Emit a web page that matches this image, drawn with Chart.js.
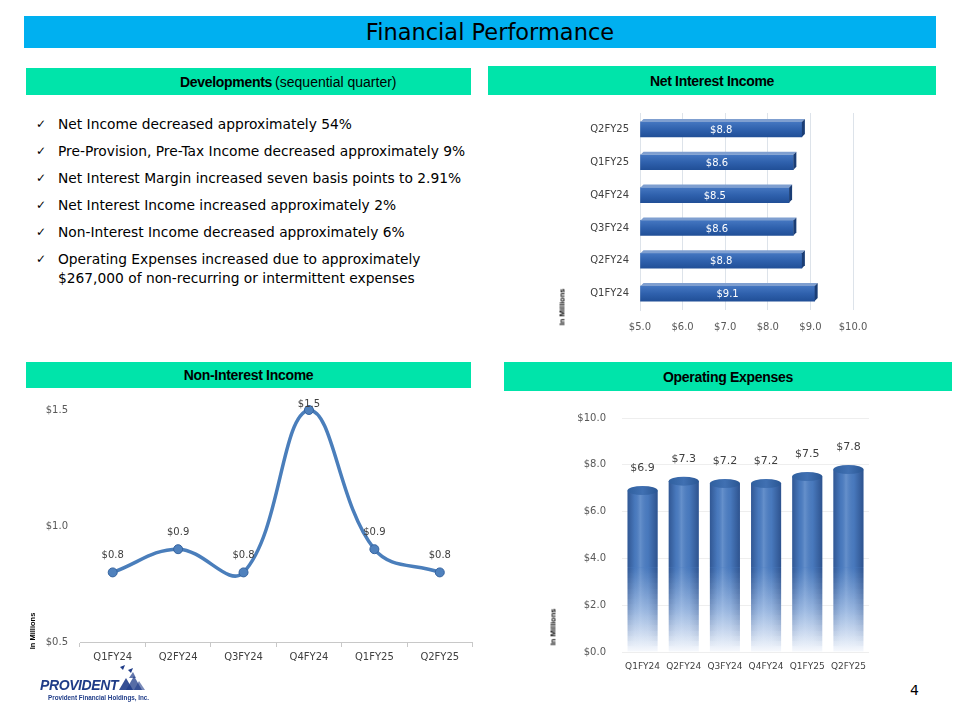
<!DOCTYPE html>
<html>
<head>
<meta charset="utf-8">
<title>Financial Performance</title>
<script src="https://cdn.jsdelivr.net/npm/chart.js@4.4.1/dist/chart.umd.min.js"></script>
<style>
  body { margin: 0; width: 960px; height: 720px; position: relative; background: #fff; overflow: hidden;
         font-family: "DejaVu Sans", sans-serif; color: #000; }
  .band { position: absolute; display: flex; align-items: center; justify-content: center; box-sizing: border-box; }
  .title { left: 24px; top: 16px; width: 912px; height: 32px; background: #00B0F0; font-size: 22.5px; padding-left: 20px; }
  .head { background: #00E4AA; font-family: "Liberation Sans", sans-serif; font-weight: bold; font-size: 14px; letter-spacing: -0.3px; }
  .head span { font-weight: normal; letter-spacing: 0; margin-left: 3px; }
  ul.dev { position: absolute; left: 36px; top: 115px; margin: 0; padding: 0; list-style: none; font-size: 13.8px; }
  ul.dev li { position: relative; padding-left: 22px; line-height: 19px; margin-bottom: 8px; white-space: nowrap; }
  ul.dev li::before { content: "\2713"; position: absolute; left: 0; top: 0; font-size: 12px; }
  .chart { position: absolute; }
  .units { position: absolute; font-family: "Liberation Sans", sans-serif; font-weight: bold; font-size: 7.5px;
           white-space: nowrap; transform: translate(-50%, -50%) rotate(-90deg); }
  .page { position: absolute; left: 910px; top: 682px; font-size: 14px; }
  .logo { position: absolute; left: 40px; top: 677px; color: #1F3C88; }
  .logo .name { font-family: "Liberation Sans", sans-serif; font-weight: bold; font-style: italic; font-size: 14px; letter-spacing: -0.4px; }
  .logo .sub { font-family: "Liberation Sans", sans-serif; font-weight: bold; font-size: 6.3px; margin-left: 8px; margin-top: 1px; }
</style>
</head>
<body>
<div class="band title">Financial Performance</div>

<div class="band head" style="left:26px;top:68px;width:445px;height:27px;justify-content:flex-start;padding-left:154px;">Developments<span>(sequential quarter)</span></div>
<ul class="dev">
  <li>Net Income decreased approximately 54%</li>
  <li>Pre-Provision, Pre-Tax Income decreased approximately 9%</li>
  <li>Net Interest Margin increased seven basis points to 2.91%</li>
  <li>Net Interest Income increased approximately 2%</li>
  <li>Non-Interest Income decreased approximately 6%</li>
  <li>Operating Expenses increased due to approximately<br>$267,000 of non-recurring or intermittent expenses</li>
</ul>

<div class="band head" style="left:488px;top:66px;width:448px;height:29px;">Net Interest Income</div>
<div class="chart" style="left:540px;top:96px;"><canvas id="nii" width="340" height="244"></canvas></div>
<div class="units" style="left:562px;top:307px;">In Millions</div>

<div class="band head" style="left:26px;top:362px;width:445px;height:26px;">Non-Interest Income</div>
<div class="chart" style="left:26px;top:392px;"><canvas id="nonii" width="452" height="280"></canvas></div>
<div class="units" style="left:32px;top:631px;">In Millions</div>

<div class="band head" style="left:504px;top:362px;width:448px;height:29px;">Operating Expenses</div>
<div class="chart" style="left:540px;top:396px;"><canvas id="opex" width="340" height="286"></canvas></div>
<div class="units" style="left:553px;top:627px;">In Millions</div>

<div class="logo">
  <div class="name">PROVIDENT</div>
  <div class="sub">Provident Financial Holdings, Inc.</div>
</div>
<svg style="position:absolute;left:116px;top:664px;" width="32" height="30" viewBox="0 0 32 30">
  <polygon points="4,3 9,1 7,6" fill="#1F3C88"/>
  <polygon points="12,6 17,4 15,9" fill="#1F3C88"/>
  <polygon points="3,26 10,14 17,26" fill="#1F3C88" opacity="0.9"/>
  <polygon points="10,26 18,12 26,26" fill="#1F3C88" opacity="0.75"/>
  <polygon points="18,26 23,17 29,26" fill="#1F3C88" opacity="0.6"/>
  <polygon points="13,14 17,8 20,14" fill="#1F3C88" opacity="0.7"/>
</svg>
<div class="page">4</div>

<script>
// values in millions of dollars
const quarters = ['Q1FY24', 'Q2FY24', 'Q3FY24', 'Q4FY24', 'Q1FY25', 'Q2FY25'];
const netInterestIncome = [9.1, 8.8, 8.6, 8.5, 8.6, 8.8];
const nonInterestIncome = [0.8, 0.9, 0.8, 1.5, 0.9, 0.8];
const operatingExpenses = [6.9, 7.3, 7.2, 7.2, 7.5, 7.8];

// axis ranges [min, max, step]; tick labels come out as $5.0 ... $10.0 etc.
const niiRange = [5, 10, 1];
const nonIiRange = [0.5, 1.5, 0.5];
const opexRange = [0, 10, 2];

Chart.defaults.font.family = '"DejaVu Sans", sans-serif';
Chart.defaults.font.size = 10;
Chart.defaults.color = '#595959';
Chart.defaults.animation = false;
Chart.defaults.plugins.legend.display = false;
Chart.defaults.plugins.tooltip.enabled = false;

const money = v => '$' + Number(v).toFixed(1);

// ---- Net Interest Income: flat 3D-ish horizontal bars ----
const niiDepth = {
  id: 'niiDepth',
  afterDatasetsDraw(chart) {
    const ctx = chart.ctx;
    const values = chart.data.datasets[0].data;
    const d = 3;
    ctx.save();
    chart.getDatasetMeta(0).data.forEach((bar, i) => {
      const { x, y, base, height } = bar.getProps(['x', 'y', 'base', 'height'], true);
      const top = y - height / 2, bottom = y + height / 2;
      // top face
      ctx.fillStyle = '#7F9FD0';
      ctx.beginPath();
      ctx.moveTo(base, top); ctx.lineTo(base + d, top - d); ctx.lineTo(x + d, top - d); ctx.lineTo(x, top);
      ctx.closePath(); ctx.fill();
      // end face
      ctx.fillStyle = '#1A3D75';
      ctx.beginPath();
      ctx.moveTo(x, top); ctx.lineTo(x + d, top - d); ctx.lineTo(x + d, bottom - d); ctx.lineTo(x, bottom);
      ctx.closePath(); ctx.fill();
      ctx.fillStyle = '#ffffff';
      ctx.font = '10px "DejaVu Sans"';
      ctx.textAlign = 'center';
      ctx.textBaseline = 'middle';
      ctx.fillText(money(values[i]), (base + x) / 2, y + 1);
    });
    ctx.restore();
  }
};

new Chart(document.getElementById('nii'), {
  type: 'bar',
  data: {
    labels: quarters,
    datasets: [{
      data: netInterestIncome,
      base: niiRange[0],
      barThickness: 15,
      backgroundColor(c) {
        const ys = c.chart.scales.y;
        if (!ys || c.dataIndex === undefined) return '#2E5FAA';
        const cy = ys.getPixelForValue(c.dataIndex);
        if (!isFinite(cy)) return '#2E5FAA';
        const g = c.chart.ctx.createLinearGradient(0, cy - 8, 0, cy + 8);
        g.addColorStop(0, '#4678C2');
        g.addColorStop(0.5, '#2F61AD');
        g.addColorStop(1, '#204E96');
        return g;
      }
    }]
  },
  options: {
    indexAxis: 'y',
    responsive: false,
    layout: { padding: { top: 9, right: 27 } },
    scales: {
      x: {
        min: niiRange[0], max: niiRange[1],
        ticks: { stepSize: niiRange[2], padding: 11, callback: v => money(v) },
        grid: { color: '#DDE3EA', drawTicks: false },
        border: { display: false },
        afterFit(s) { s.height = 30; }
      },
      y: {
        reverse: true,
        ticks: { padding: 11, color: '#404040' },
        grid: { display: false, drawTicks: false },
        border: { color: '#DDE3EA' },
        afterFit(s) { s.width = 100; }
      }
    }
  },
  plugins: [niiDepth]
});

// ---- Non-Interest Income: smoothed line ----
const pointLabels = {
  id: 'pointLabels',
  afterDatasetsDraw(chart) {
    const ctx = chart.ctx, area = chart.chartArea;
    const values = chart.data.datasets[0].data;
    ctx.save();
    ctx.fillStyle = '#404040';
    ctx.font = '10px "DejaVu Sans"';
    ctx.textAlign = 'center';
    ctx.textBaseline = 'middle';
    chart.getDatasetMeta(0).data.forEach((pt, i) => {
      ctx.fillText(money(values[i]), pt.x, Math.max(pt.y - 17, area.top - 6));
    });
    ctx.restore();
  }
};

new Chart(document.getElementById('nonii'), {
  type: 'line',
  data: {
    labels: quarters,
    datasets: [{
      data: nonInterestIncome,
      borderColor: '#4A7EBB',
      borderWidth: 3.5,
      tension: 0.4,
      clip: false,
      pointRadius: 4.5,
      pointBackgroundColor: '#4F81BD',
      pointBorderColor: '#35639F',
      pointBorderWidth: 1
    }]
  },
  options: {
    responsive: false,
    layout: { padding: { top: 12, right: 3 } },
    scales: {
      x: {
        offset: true,
        ticks: { padding: 4, color: '#404040' },
        grid: { offset: true, drawOnChartArea: false, tickLength: 5, color: '#C8C8C8' },
        border: { color: '#C8C8C8' },
        afterFit(s) { s.height = 30; }
      },
      y: {
        min: nonIiRange[0], max: nonIiRange[1],
        ticks: { stepSize: nonIiRange[2], padding: 12, callback: v => money(v) },
        grid: { display: false, drawTicks: false },
        border: { display: false },
        afterFit(s) { s.width = 54; }
      }
    }
  },
  plugins: [pointLabels]
});

// ---- Operating Expenses: cylinders fading to white ----
const cylinders = {
  id: 'cylinders',
  afterDatasetsDraw(chart) {
    const ctx = chart.ctx, ys = chart.scales.y;
    const values = chart.data.datasets[0].data;
    const fadeTop = ys.getPixelForValue(3.6);
    ctx.save();
    chart.getDatasetMeta(0).data.forEach((bar, i) => {
      const { x, y, base, width } = bar.getProps(['x', 'y', 'base', 'width'], true);
      const l = x - width / 2, r = x + width / 2;
      const side = ctx.createLinearGradient(l, 0, r, 0);
      side.addColorStop(0, 'rgba(16,40,90,0.45)');
      side.addColorStop(0.25, 'rgba(16,40,90,0.06)');
      side.addColorStop(0.42, 'rgba(255,255,255,0.14)');
      side.addColorStop(0.68, 'rgba(16,40,90,0.06)');
      side.addColorStop(1, 'rgba(16,40,90,0.5)');
      ctx.fillStyle = side;
      ctx.fillRect(l, y, width, fadeTop - y);
      const steps = 16;
      for (let s = 0; s < steps; s++) {
        const y0 = Math.round(fadeTop + (base - fadeTop) * s / steps);
        const y1 = Math.round(fadeTop + (base - fadeTop) * (s + 1) / steps);
        ctx.globalAlpha = 1 - (s + 1) / steps;
        ctx.fillRect(l, y0, width, y1 - y0);
      }
      ctx.globalAlpha = 1;
      const cap = ctx.createLinearGradient(l, 0, r, 0);
      cap.addColorStop(0, '#30609F');
      cap.addColorStop(0.5, '#4070B2');
      cap.addColorStop(1, '#2A5693');
      ctx.fillStyle = cap;
      ctx.beginPath();
      ctx.ellipse(x, y, width / 2, 4.5, 0, 0, Math.PI * 2);
      ctx.fill();
      ctx.fillStyle = '#404040';
      ctx.font = '11px "DejaVu Sans"';
      ctx.textAlign = 'center';
      ctx.textBaseline = 'middle';
      ctx.fillText(money(values[i]), x, y - 22);
    });
    ctx.restore();
  }
};

new Chart(document.getElementById('opex'), {
  type: 'bar',
  data: {
    labels: quarters,
    datasets: [{
      data: operatingExpenses,
      barPercentage: 0.73,
      categoryPercentage: 1,
      backgroundColor(c) {
        const ys = c.chart.scales.y;
        if (!ys) return '#4C7EC3';
        const t = ys.getPixelForValue(3.6), b = ys.getPixelForValue(0);
        if (!isFinite(t) || !isFinite(b) || t === b) return '#4C7EC3';
        const g = c.chart.ctx.createLinearGradient(0, t, 0, b);
        g.addColorStop(0, '#4C7EC3');
        g.addColorStop(0.5, '#9AB8E2');
        g.addColorStop(1, '#F7F9FD');
        return g;
      }
    }]
  },
  options: {
    responsive: false,
    layout: { padding: { top: 12, right: 11 } },
    scales: {
      x: {
        ticks: { padding: 9, color: '#404040', font: { size: 9 } },
        grid: { display: false, drawTicks: false },
        border: { display: false },
        afterFit(s) { s.height = 30; }
      },
      y: {
        min: opexRange[0], max: opexRange[1],
        ticks: { stepSize: opexRange[2], padding: 16, callback: v => money(v) },
        grid: { color: '#EEEEEE', drawTicks: false },
        border: { display: false },
        afterFit(s) { s.width = 82; }
      }
    }
  },
  plugins: [cylinders]
});
</script>
</body>
</html>
